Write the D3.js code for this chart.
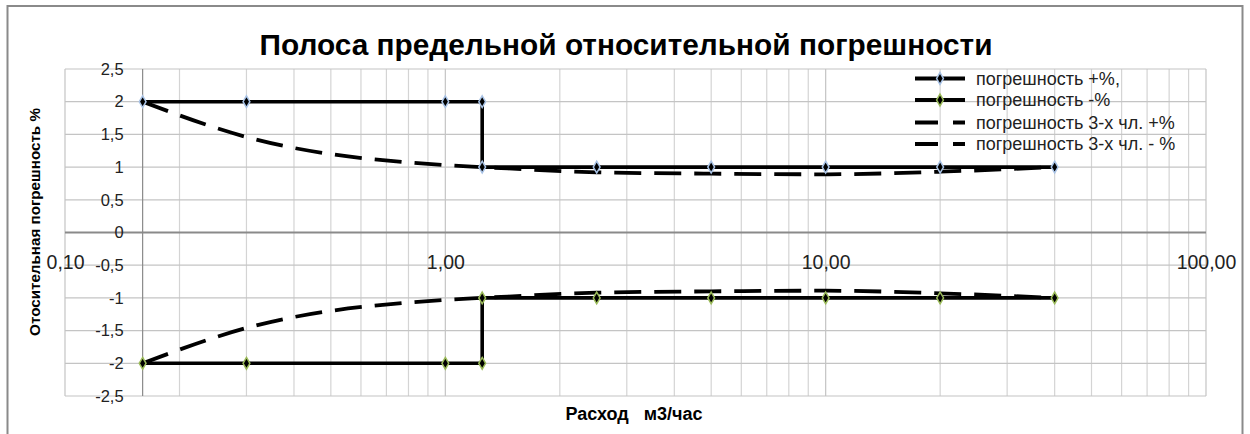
<!DOCTYPE html>
<html>
<head>
<meta charset="utf-8">
<script src="https://cdn.jsdelivr.net/npm/d3@7"></script>
<style>
  body { margin: 0; background: #fff; }
  svg { display: block; font-family: "Liberation Sans", Arial, sans-serif; }
</style>
</head>
<body>
<svg id="chart"></svg>
<script>
// расход, м3/час и погрешность
const flowQ = [0.16, 0.3, 1, 1.25, 1.25, 2.5, 5, 10, 20, 40];
const errPlus = [2, 2, 2, 2, 1, 1, 1, 1, 1, 1];
const errMinus = [-2, -2, -2, -2, -1, -1, -1, -1, -1, -1];

// погрешность по 3-х членной формуле
const fitQ = [0.16, 0.3, 1, 1.25, 2.5, 5, 10, 20, 40];
const fitPlus = [2.0, 1.46, 1.03, 1.0, 0.92, 0.9, 0.89, 0.93, 1.0];
const fitMinus = [-2.0, -1.46, -1.03, -1.0, -0.92, -0.9, -0.89, -0.93, -1.0];

const xTicks = [0.1, 1, 10, 100];
const yTicks = [-2.5, -2, -1.5, -1, -0.5, 0, 0.5, 1, 1.5, 2, 2.5];

const seriesNames = [
  "погрешность +%,",
  "погрешность -%",
  "погрешность 3-х чл. +%",
  "погрешность 3-х чл. - %"
];

const W = 1250, H = 434;
const plotL = 65, plotR = 1206, plotT = 69, plotB = 396;

const svg = d3.select("#chart").attr("width", W).attr("height", H);

const x = d3.scaleLog().domain([0.1, 100]).range([plotL, plotR]);
const y = d3.scaleLinear().domain([-2.5, 2.5]).range([plotB, plotT]);

const comma = f => s => f(s).replace(".", ",").replace("−", "-");

// рамка диаграммы
svg.append("rect")
  .attr("x", 7.5).attr("y", 6)
  .attr("width", 1235).attr("height", 440)
  .attr("fill", "none")
  .attr("stroke", "#8a8a8a")
  .attr("stroke-width", 2);

// заголовок
svg.append("text")
  .attr("x", 626).attr("y", 55)
  .attr("text-anchor", "middle")
  .attr("font-size", 29)
  .attr("font-weight", "bold")
  .attr("fill", "#000")
  .attr("textLength", 733)
  .attr("lengthAdjust", "spacingAndGlyphs")
  .text("Полоса предельной относительной погрешности");

// сетка
const grid = svg.append("g");
grid.selectAll("line.v")
  .data(x.ticks())
  .join("line")
  .attr("class", "v")
  .attr("x1", d => x(d)).attr("x2", d => x(d))
  .attr("y1", plotT).attr("y2", plotB)
  .attr("stroke", d => xTicks.includes(d) ? "#c4c4c4" : "#d4d4d4")
  .attr("stroke-width", 1.2);

grid.selectAll("line.h")
  .data(yTicks)
  .join("line")
  .attr("class", "h")
  .attr("x1", plotL).attr("x2", plotR)
  .attr("y1", d => y(d)).attr("y2", d => y(d))
  .attr("stroke", "#c4c4c4")
  .attr("stroke-width", 1.2);

// оси
svg.append("line")
  .attr("x1", plotL).attr("x2", plotR)
  .attr("y1", y(0)).attr("y2", y(0))
  .attr("stroke", "#8a8a8a").attr("stroke-width", 2.2);
svg.append("line")
  .attr("x1", x(0.16)).attr("x2", x(0.16))
  .attr("y1", plotT).attr("y2", plotB)
  .attr("stroke", "#8a8a8a").attr("stroke-width", 1.2);

const yAxis = svg.append("g")
  .attr("transform", `translate(${x(0.16)},0)`)
  .call(d3.axisLeft(y).tickValues(yTicks).tickSize(0).tickPadding(19)
    .tickFormat(comma(d3.format("~g"))));
yAxis.select(".domain").remove();
yAxis.selectAll("text")
  .attr("font-size", 16.5).attr("fill", "#222")
  .attr("font-family", "Liberation Sans, Arial, sans-serif");

const xAxis = svg.append("g")
  .attr("transform", `translate(0,${y(0)})`)
  .call(d3.axisBottom(x).tickValues(xTicks).tickSize(0).tickPadding(23)
    .tickFormat(comma(d3.format(".2f"))));
xAxis.select(".domain").remove();
xAxis.selectAll("text")
  .attr("font-size", 19.5).attr("fill", "#222")
  .attr("font-family", "Liberation Sans, Arial, sans-serif");

// подписи осей
svg.append("text")
  .attr("transform", "translate(40,222) rotate(-90)")
  .attr("text-anchor", "middle")
  .attr("font-size", 15.2)
  .attr("font-weight", "bold")
  .text("Отосительная погрешность %");

svg.append("text")
  .attr("x", 634).attr("y", 420)
  .attr("text-anchor", "middle")
  .attr("font-size", 18)
  .attr("font-weight", "bold")
  .style("white-space", "pre")
  .text("Расход   м3/час");

// линии
const stepLine = d3.line().x(d => x(d[0])).y(d => y(d[1]));
const smoothLine = d3.line().x(d => x(d[0])).y(d => y(d[1])).curve(d3.curveMonotoneX);

const plusPts = flowQ.map((q, i) => [q, errPlus[i]]);
const minusPts = flowQ.map((q, i) => [q, errMinus[i]]);
const fitPlusPts = fitQ.map((q, i) => [q, fitPlus[i]]);
const fitMinusPts = fitQ.map((q, i) => [q, fitMinus[i]]);

const plot = svg.append("g");
[plusPts, minusPts].forEach(pts => {
  plot.append("path")
    .attr("d", stepLine(pts))
    .attr("fill", "none")
    .attr("stroke", "#000")
    .attr("stroke-width", 3.6);
});
[fitPlusPts, fitMinusPts].forEach(pts => {
  plot.append("path")
    .attr("d", smoothLine(pts))
    .attr("fill", "none")
    .attr("stroke", "#000")
    .attr("stroke-width", 3.8)
    .attr("stroke-dasharray", "27,13");
});

const diamond = d3.symbol().type(d3.symbolDiamond).size(40);
[[plusPts, "#a9c3e6"], [minusPts, "#9bbb59"]].forEach(([pts, halo]) => {
  plot.append("g")
    .selectAll("path")
    .data(pts)
    .join("path")
    .attr("transform", d => `translate(${x(d[0])},${y(d[1])})`)
    .attr("d", diamond)
    .attr("fill", "#000")
    .attr("stroke", halo)
    .attr("stroke-width", 1.5);
});

// легенда
const legendRows = [78.5, 100, 122.5, 144];
const legend = svg.append("g");
seriesNames.forEach((name, i) => {
  const ly = legendRows[i];
  const row = legend.append("g");
  row.append("line")
    .attr("x1", 915).attr("x2", 965)
    .attr("y1", ly).attr("y2", ly)
    .attr("stroke", "#000")
    .attr("stroke-width", 3.8)
    .attr("stroke-dasharray", i < 2 ? null : "23,15");
  if (i < 2) {
    row.append("path")
      .attr("transform", `translate(940,${ly})`)
      .attr("d", diamond)
      .attr("fill", "#000")
      .attr("stroke", i === 0 ? "#a9c3e6" : "#9bbb59")
      .attr("stroke-width", 1.5);
  }
  row.append("text")
    .attr("x", 976).attr("y", ly + 6)
    .attr("font-size", 18)
    .attr("fill", "#222")
    .text(name);
});
</script>
</body>
</html>
